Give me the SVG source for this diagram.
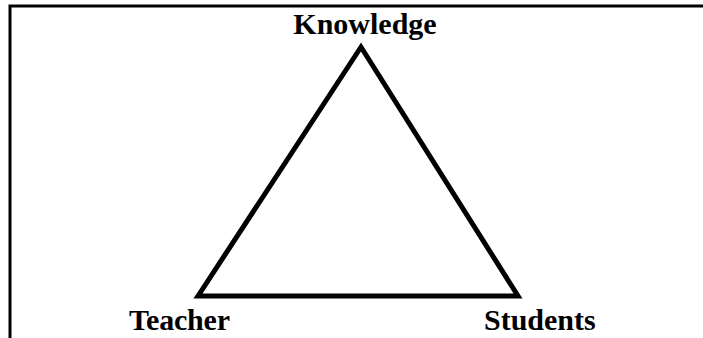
<svg xmlns="http://www.w3.org/2000/svg" width="703" height="338" viewBox="0 0 703 338">
<style>
.lbl{font-family:"Liberation Serif","Times New Roman",serif;font-weight:bold;font-size:30px;fill:#000}
.edge{fill:none;stroke:#000;stroke-width:5;stroke-linejoin:miter}
</style>
<rect width="703" height="338" fill="#fff"/>
<path d="M10 338 V6 H703" fill="none" stroke="#000" stroke-width="3"/>
<g id="connectors">
<polygon class="edge" points="198,296 361,47 518,296"/>
</g>
<g id="knowledge"><text class="lbl" x="365" y="33.5" text-anchor="middle">Knowledge</text></g>
<g id="teacher"><text class="lbl" x="129" y="329.5" textLength="101">Teacher</text></g>
<g id="students"><text class="lbl" x="484" y="329.5">Students</text></g>
</svg>
